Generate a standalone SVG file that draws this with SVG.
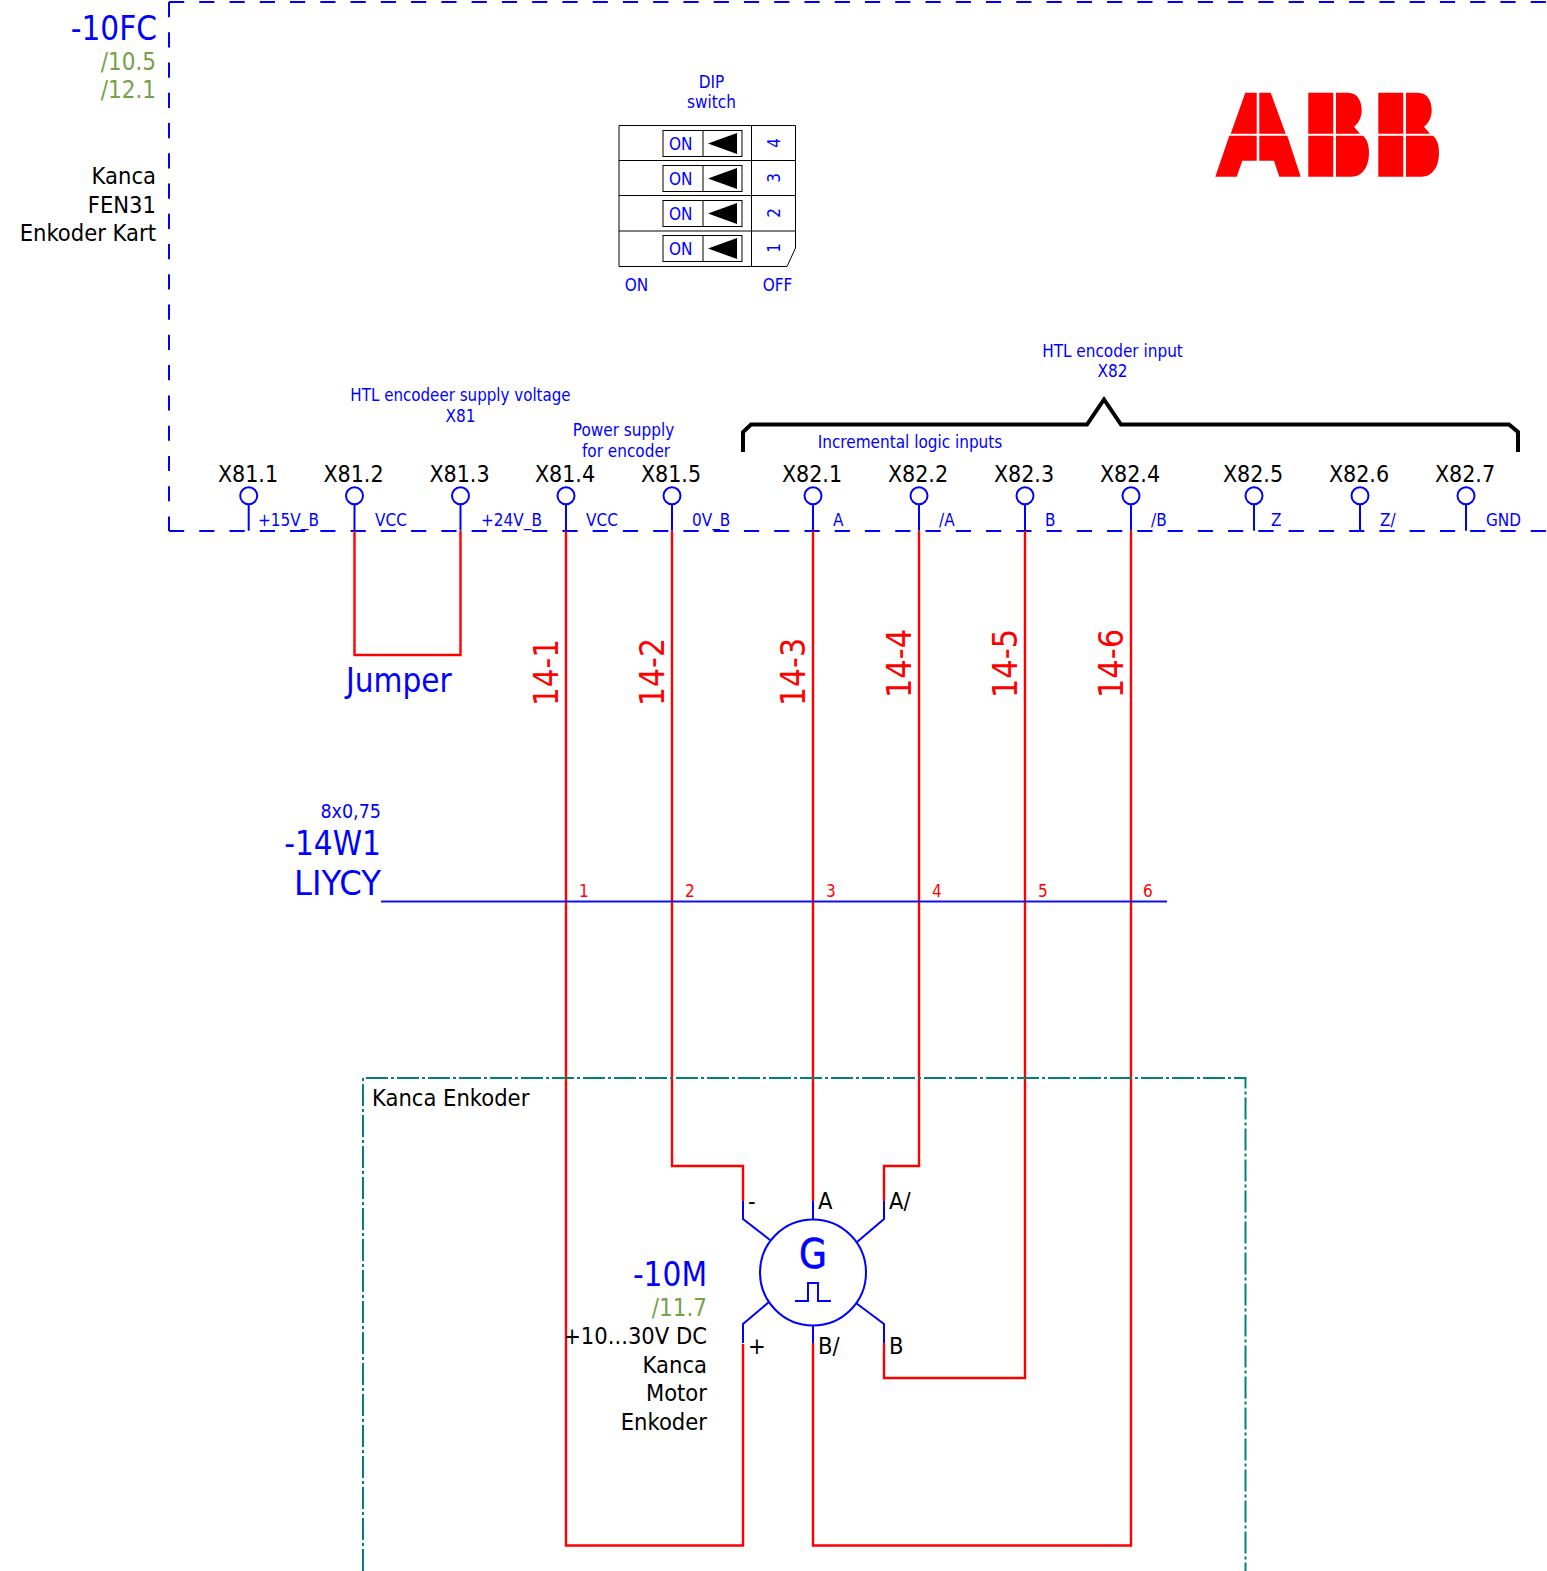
<svg xmlns="http://www.w3.org/2000/svg" width="1547" height="1571" viewBox="0 0 1547 1571">
<style>
text{font-family:"DejaVu Sans Condensed","DejaVu Sans",sans-serif;font-stretch:condensed;fill:#000}
.b{fill:#0000ff}.g{fill:#76a04c}.r{fill:#ff0000}
.e{text-anchor:end}.m{text-anchor:middle}
.s16{font-size:16px}.s18{font-size:17px}.s23{font-size:23px}.s24{font-size:23.500px}.s33{font-size:33px}
.blu{stroke:#0000ff;stroke-width:2;fill:none}
.red{stroke:#ff0000;stroke-width:2.400;fill:none}
.blk{stroke:#000;stroke-width:1;fill:none}
.dash{stroke:#0000ff;stroke-width:2;fill:none;stroke-dasharray:15.200 15.060}
.teal{stroke:#008080;stroke-width:2;fill:none;stroke-dasharray:22 3 3 3}
.brace{stroke:#000;stroke-width:4;fill:none}
</style>
<defs>
<g id="term"><circle cx="0" cy="0" r="8.500" class="blu"/><path d="M0 8.500V35" class="blu"/></g>
<g id="dip"><rect x="44" y="4.500" width="79" height="26" fill="#fff" stroke="#000"/><path d="M84 4.500v26" stroke="#000"/><path d="M89 17.500L118 7V28Z" fill="#000"/><text x="50" y="24" class="b" style="font-size:17px">ON</text></g>
</defs>

<g id="frame"><path d="M169 2H1547M169 2V531M169 531H1547" class="dash"/></g>

<g id="connectors">
<path d="M354.500 531V655H460.500V531" class="red"/>
<path d="M566 531V1545.500H743V1344" class="red"/>
<path d="M672 531V1166H743V1201" class="red"/>
<path d="M813 531V1201" class="red"/>
<path d="M919 531V1166H884V1201" class="red"/>
<path d="M1025 531V1378H884V1343" class="red"/>
<path d="M1131 531V1545.500H813V1343" class="red"/>
</g>

<g id="title">
<text x="157" y="40" class="b e s33">-10FC</text>
<text x="156" y="70" class="g e" style="font-size:24px">/10.5</text>
<text x="156" y="98" class="g e" style="font-size:24px">/12.1</text>
<text x="156" y="184" class="e s24">Kanca</text>
<text x="156" y="213" class="e s24">FEN31</text>
<text x="156" y="241" class="e s24">Enkoder Kart</text>
</g>

<g id="dip-switch">
<text x="711.500" y="88" class="b m s18">DIP</text>
<text x="711.500" y="108" class="b m s18">switch</text>
<path d="M619 125.500H795.500V248L787 266.500H619Z" class="blk" fill="#fff"/>
<path d="M619 160.500H795.500M619 195.500H795.500M619 231H795.500M751.500 125.500V266.500" class="blk"/>
<use href="#dip" x="619" y="126"/><use href="#dip" x="619" y="161"/><use href="#dip" x="619" y="196"/><use href="#dip" x="619" y="231"/>
<text transform="translate(780,143) rotate(-90)" class="b m s18">4</text>
<text transform="translate(780,178) rotate(-90)" class="b m s18">3</text>
<text transform="translate(780,213) rotate(-90)" class="b m s18">2</text>
<text transform="translate(780,248) rotate(-90)" class="b m s18">1</text>
<text x="636.500" y="291" class="b m s18">ON</text>
<text x="777.500" y="291" class="b m s18">OFF</text>
</g>

<g id="abb" fill="#ff0000">
<path d="M1245.300 92.700H1256.700V133.700H1230.700ZM1259.300 92.700H1270.700L1285.700 133.700H1259.300ZM1229.300 135.700H1256.700V160.700H1242.300L1236.700 176.700H1215.300ZM1259.300 135.700H1287.300L1300.700 176.700H1279.300L1274 160.700H1259.300Z"/>
<path d="M1308.300 92.700H1333.300V133.700H1308.300ZM1336 92.700H1348C1358 92.700 1361.700 102 1361.700 110C1361.700 118 1358 124 1354 126.700L1360 133.700H1336ZM1308.300 135.700H1333.300V176.700H1308.300ZM1336 135.700H1363C1368 140 1369 147 1369 153C1369 167 1362 176.700 1351.700 176.700H1336Z"/>
<path d="M1378.300 92.700H1403.300V133.700H1378.300ZM1406 92.700H1418C1428 92.700 1431.700 102 1431.700 110C1431.700 118 1428 124 1424 126.700L1430 133.700H1406ZM1378.300 135.700H1403.300V176.700H1378.300ZM1406 135.700H1433C1438 140 1439 147 1439 153C1439 167 1432 176.700 1421.700 176.700H1406Z"/>
</g>

<g id="headers">
<text x="460.500" y="401" class="b m" style="font-size:16.800px">HTL encodeer supply voltage</text>
<text x="460.500" y="422" class="b m s18">X81</text>
<text x="623.500" y="436" class="b m s18">Power supply</text>
<text x="626" y="457" class="b m s18">for encoder</text>
<text x="1112.500" y="357" class="b m s18">HTL encoder input</text>
<text x="1112.500" y="377" class="b m s18">X82</text>
<text x="910" y="448" class="b m s18">Incremental logic inputs</text>
<path d="M743 452V432L751 424.500H1087L1104 399.500L1121 424.500H1509L1518 432V452" class="brace"/>
</g>

<g id="X81.1"><use href="#term" x="248.700" y="495.700"/><text x="248" y="482" class="m s23">X81.1</text><text x="258" y="526" class="b s18">+15V_B</text></g>
<g id="X81.2"><use href="#term" x="354.500" y="495.700"/><text x="353.500" y="482" class="m s23">X81.2</text><text x="375" y="526" class="b s18">VCC</text></g>
<g id="X81.3"><use href="#term" x="460.500" y="495.700"/><text x="459.500" y="482" class="m s23">X81.3</text><text x="481" y="526" class="b s18">+24V_B</text></g>
<g id="X81.4"><use href="#term" x="566" y="495.700"/><text x="565" y="482" class="m s23">X81.4</text><text x="586" y="526" class="b s18">VCC</text></g>
<g id="X81.5"><use href="#term" x="672" y="495.700"/><text x="671" y="482" class="m s23">X81.5</text><text x="692" y="526" class="b s18">0V_B</text></g>
<g id="X82.1"><use href="#term" x="813" y="495.700"/><text x="812" y="482" class="m s23">X82.1</text><text x="833" y="526" class="b s18">A</text></g>
<g id="X82.2"><use href="#term" x="919" y="495.700"/><text x="918" y="482" class="m s23">X82.2</text><text x="939" y="526" class="b s18">/A</text></g>
<g id="X82.3"><use href="#term" x="1025" y="495.700"/><text x="1024" y="482" class="m s23">X82.3</text><text x="1045" y="526" class="b s18">B</text></g>
<g id="X82.4"><use href="#term" x="1131" y="495.700"/><text x="1130" y="482" class="m s23">X82.4</text><text x="1151" y="526" class="b s18">/B</text></g>
<g id="X82.5"><use href="#term" x="1254" y="495.700"/><text x="1253" y="482" class="m s23">X82.5</text><text x="1271" y="526" class="b s18">Z</text></g>
<g id="X82.6"><use href="#term" x="1360" y="495.700"/><text x="1359" y="482" class="m s23">X82.6</text><text x="1380" y="526" class="b s18">Z/</text></g>
<g id="X82.7"><use href="#term" x="1466" y="495.700"/><text x="1465" y="482" class="m s23">X82.7</text><text x="1486" y="526" class="b s18">GND</text></g>

<g id="wire-labels">
<text x="346" y="692" class="b s33">Jumper</text>
<text transform="translate(558,706) rotate(-90)" class="r s33" textLength="67" lengthAdjust="spacingAndGlyphs">14-1</text>
<text transform="translate(664,706) rotate(-90)" class="r s33" textLength="68" lengthAdjust="spacingAndGlyphs">14-2</text>
<text transform="translate(805,706) rotate(-90)" class="r s33" textLength="68" lengthAdjust="spacingAndGlyphs">14-3</text>
<text transform="translate(911,698) rotate(-90)" class="r s33" textLength="69" lengthAdjust="spacingAndGlyphs">14-4</text>
<text transform="translate(1017,698) rotate(-90)" class="r s33" textLength="69" lengthAdjust="spacingAndGlyphs">14-5</text>
<text transform="translate(1123,698) rotate(-90)" class="r s33" textLength="69" lengthAdjust="spacingAndGlyphs">14-6</text>
</g>

<g id="cable">
<path d="M381 901.500H1167" stroke="#1010f0" stroke-width="1.800" fill="none"/>
<text x="381" y="818" class="b e" style="font-size:19.500px">8x0,75</text>
<text x="381" y="855" class="b e s33">-14W1</text>
<text x="294" y="895" class="b s33" textLength="87" lengthAdjust="spacingAndGlyphs">LIYCY</text>
<text x="579" y="897" class="r s18">1</text>
<text x="685" y="897" class="r s18">2</text>
<text x="826" y="897" class="r s18">3</text>
<text x="932" y="897" class="r s18">4</text>
<text x="1038" y="897" class="r s18">5</text>
<text x="1143" y="897" class="r s18">6</text>
</g>

<g id="enclosure">
<path d="M363 1571V1078H1245.500V1571" class="teal"/>
<text x="372" y="1106" class="s24">Kanca Enkoder</text>
</g>

<g id="encoder">
<circle cx="813" cy="1272.500" r="53" class="blu"/>
<path d="M743 1201V1219L770 1240M813 1201V1219M884 1201V1219L857 1242M743 1343V1324L769 1302M813 1343V1326M884 1343V1324L856 1303" class="blu"/>
<path d="M795 1301H808V1283H818V1301H831" class="blu"/>
<text x="813" y="1268" class="b m" style="font-size:40px;stroke:#0000ff;stroke-width:.6px">G</text>
<text x="707" y="1286" class="b e s33">-10M</text>
<text x="707" y="1316" class="g e" style="font-size:24px">/11.7</text>
<text x="707" y="1344" class="e s24">+10...30V DC</text>
<text x="707" y="1373" class="e s24">Kanca</text>
<text x="707" y="1401" class="e s24">Motor</text>
<text x="707" y="1430" class="e s24">Enkoder</text>
<text x="748" y="1209" class="s24">-</text>
<text x="818" y="1209" class="s24">A</text>
<text x="889" y="1209" class="s24">A/</text>
<text x="748" y="1354" class="s24">+</text>
<text x="818" y="1354" class="s24">B/</text>
<text x="889" y="1354" class="s24">B</text>
</g>
</svg>
